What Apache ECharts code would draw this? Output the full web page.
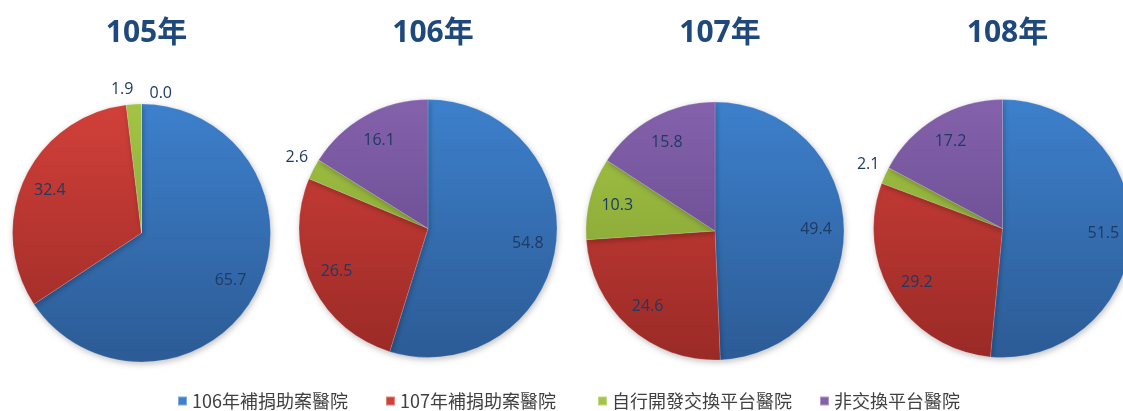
<!DOCTYPE html>
<html><head><meta charset="utf-8">
<script src="https://cdn.jsdelivr.net/npm/echarts@6/dist/echarts.min.js"></script>
<style>html,body{margin:0;padding:0;background:#fff}#c{width:1123px;height:411px}</style>
</head><body><div id="c"></div>
<script>
const years = ['105年', '106年', '107年', '108年'];
const categories = ['106年補捐助案醫院', '107年補捐助案醫院', '自行開發交換平台醫院', '非交換平台醫院'];
const values105 = [65.7, 32.4, 1.9, 0.0];
const values106 = [54.8, 26.5, 2.6, 16.1];
const values107 = [49.4, 24.6, 10.3, 15.8];
const values108 = [51.5, 29.2, 2.1, 17.2];
const allValues = [values105, values106, values107, values108];

const centers = [[141.5, 233], [428, 228.5], [715, 231], [1002.5, 228.5]];
const R = 129;
const legendLefts = [177, 385, 597, 819];
const colorStops = [
  ['#3D80CC', '#2C5B95'],
  ['#D2403A', '#9A2A26'],
  ['#A3C444', '#7D9B32'],
  ['#8462AC', '#5C4182']
];
const labelColor = '#1F3A63';
const fontFam = '"Open Sans","Noto Sans CJK TC",sans-serif';

function grad(i, cy) {
  return {type: 'linear', x: 0, y: cy - R, x2: 0, y2: cy + R, global: true,
    colorStops: [{offset: 0, color: colorStops[i][0]}, {offset: 1, color: colorStops[i][1]}]};
}

const series = [];
allValues.forEach((vals, p) => {
  const [cx, cy] = centers[p];
  series.push({
    type: 'pie', center: [cx, cy], radius: [0, R], startAngle: 90, clockwise: true,
    avoidLabelOverlap: false, animation: false, silent: true,
    itemStyle: {borderColor: 'rgba(255,255,255,0.35)', borderWidth: 0.5, shadowBlur: 6, shadowColor: 'rgba(0,0,0,0.25)', shadowOffsetX: 1, shadowOffsetY: 2},
    labelLine: {show: false, length: 6, length2: 0},
    label: {position: 'outside', color: labelColor, fontSize: 16, fontFamily: fontFam,
      formatter: q => q.value.toFixed(1)},
    labelLayout: q => (allValues[p][q.dataIndex] === 0 ? {dx: q.labelRect.width + 13, dy: -5} : {dx: 5, dy: -9}),
    data: vals.map((v, i) => ({name: categories[i], value: v,
      itemStyle: {color: grad(i, cy)},
      label: {show: v < 5}}))
  });
  series.push({
    type: 'pie', center: [cx, cy], radius: [70, 126], startAngle: 90, clockwise: true,
    avoidLabelOverlap: false, animation: false, silent: true, z: 5,
    itemStyle: {color: 'rgba(0,0,0,0)', borderWidth: 0},
    labelLine: {show: false},
    label: {position: 'inside', color: labelColor, fontSize: 16, fontFamily: fontFam,
      formatter: q => q.value.toFixed(1)},
    data: vals.map((v, i) => ({name: categories[i], value: v, label: {show: v >= 5}}))
  });
});

const chart = echarts.init(document.getElementById('c'), null, {renderer: 'canvas'});
chart.setOption({
  backgroundColor: '#fff',
  title: years.map((t, p) => ({
    text: t, left: centers[p][0], top: 13, textAlign: 'center',
    textStyle: {fontSize: 30, fontWeight: 'bold', color: '#1F497D', fontFamily: fontFam}
  })),
  legend: categories.map((c, i) => ({
    data: [c], left: legendLefts[i], top: 392, itemWidth: 9, itemHeight: 9, itemGap: 5,
    icon: 'rect', padding: 0,
    textStyle: {fontSize: 18, color: '#404040', fontFamily: '"Noto Sans CJK TC",sans-serif'},
    selectedMode: false
  })),
  color: colorStops.map(c => c[0]),
  series: series
});
</script></body></html>
